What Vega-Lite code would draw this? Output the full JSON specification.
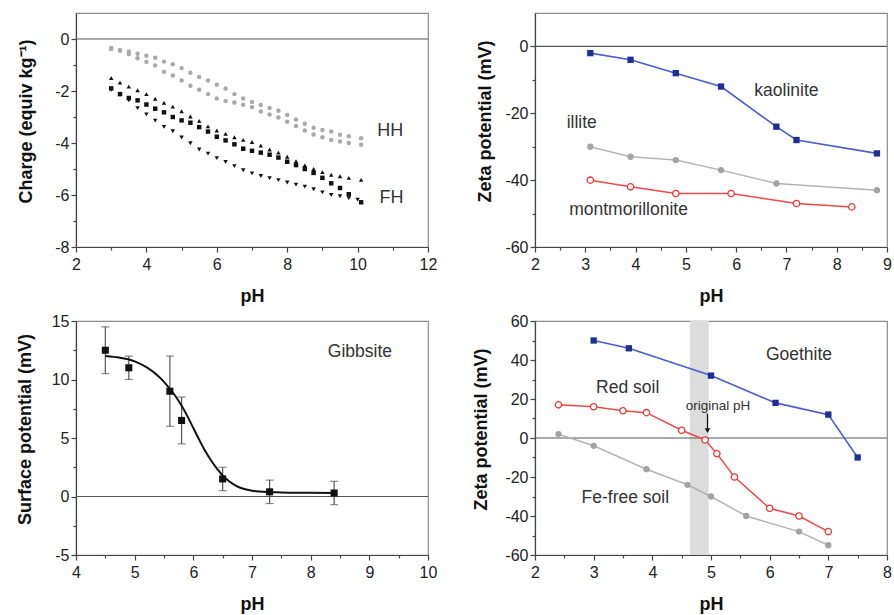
{
  "$schema": "https://vega.github.io/schema/vega-lite/v6.json",
  "padding": {"left": 15, "top": 12, "right": 2, "bottom": 2},
  "columns": 2,
  "spacing": {"row": 74, "column": 107},
  "bounds": "flush",
  "resolve": {"scale": {"color": "independent", "shape": "independent", "size": "independent"}},
  "datasets": {
    "charge": [
      {"s":"HH1","pH":3.0,"q":-0.35},{"s":"HH1","pH":3.25,"q":-0.42},{"s":"HH1","pH":3.5,"q":-0.49},{"s":"HH1","pH":3.75,"q":-0.57},{"s":"HH1","pH":4.0,"q":-0.64},{"s":"HH1","pH":4.25,"q":-0.72},{"s":"HH1","pH":4.5,"q":-0.87},{"s":"HH1","pH":4.75,"q":-0.97},{"s":"HH1","pH":5.0,"q":-1.12},{"s":"HH1","pH":5.25,"q":-1.3},{"s":"HH1","pH":5.5,"q":-1.46},{"s":"HH1","pH":5.75,"q":-1.6},{"s":"HH1","pH":6.0,"q":-1.76},{"s":"HH1","pH":6.25,"q":-1.9},{"s":"HH1","pH":6.5,"q":-2.12},{"s":"HH1","pH":6.75,"q":-2.29},{"s":"HH1","pH":7.0,"q":-2.42},{"s":"HH1","pH":7.25,"q":-2.54},{"s":"HH1","pH":7.5,"q":-2.65},{"s":"HH1","pH":7.75,"q":-2.76},{"s":"HH1","pH":8.0,"q":-2.92},{"s":"HH1","pH":8.25,"q":-3.1},{"s":"HH1","pH":8.5,"q":-3.26},{"s":"HH1","pH":8.75,"q":-3.41},{"s":"HH1","pH":9.0,"q":-3.5},{"s":"HH1","pH":9.25,"q":-3.56},{"s":"HH1","pH":9.5,"q":-3.68},{"s":"HH1","pH":9.75,"q":-3.74},{"s":"HH1","pH":10.1,"q":-3.82},
      {"s":"HH2","pH":3.0,"q":-0.38},{"s":"HH2","pH":3.25,"q":-0.45},{"s":"HH2","pH":3.5,"q":-0.58},{"s":"HH2","pH":3.75,"q":-0.74},{"s":"HH2","pH":4.0,"q":-0.88},{"s":"HH2","pH":4.25,"q":-1.02},{"s":"HH2","pH":4.5,"q":-1.26},{"s":"HH2","pH":4.75,"q":-1.4},{"s":"HH2","pH":5.0,"q":-1.6},{"s":"HH2","pH":5.25,"q":-1.8},{"s":"HH2","pH":5.5,"q":-1.95},{"s":"HH2","pH":5.75,"q":-2.12},{"s":"HH2","pH":6.0,"q":-2.29},{"s":"HH2","pH":6.25,"q":-2.38},{"s":"HH2","pH":6.5,"q":-2.44},{"s":"HH2","pH":6.75,"q":-2.53},{"s":"HH2","pH":7.0,"q":-2.62},{"s":"HH2","pH":7.25,"q":-2.79},{"s":"HH2","pH":7.5,"q":-2.9},{"s":"HH2","pH":7.75,"q":-3.02},{"s":"HH2","pH":8.0,"q":-3.18},{"s":"HH2","pH":8.25,"q":-3.35},{"s":"HH2","pH":8.5,"q":-3.52},{"s":"HH2","pH":8.75,"q":-3.67},{"s":"HH2","pH":9.0,"q":-3.78},{"s":"HH2","pH":9.25,"q":-3.88},{"s":"HH2","pH":9.5,"q":-3.94},{"s":"HH2","pH":9.75,"q":-4.0},{"s":"HH2","pH":10.1,"q":-4.07},
      {"s":"FHu","pH":3.0,"q":-1.5},{"s":"FHu","pH":3.25,"q":-1.68},{"s":"FHu","pH":3.5,"q":-1.83},{"s":"FHu","pH":3.75,"q":-1.97},{"s":"FHu","pH":4.0,"q":-2.12},{"s":"FHu","pH":4.25,"q":-2.3},{"s":"FHu","pH":4.5,"q":-2.45},{"s":"FHu","pH":4.75,"q":-2.6},{"s":"FHu","pH":5.0,"q":-2.78},{"s":"FHu","pH":5.25,"q":-2.98},{"s":"FHu","pH":5.5,"q":-3.15},{"s":"FHu","pH":5.75,"q":-3.36},{"s":"FHu","pH":6.0,"q":-3.52},{"s":"FHu","pH":6.25,"q":-3.65},{"s":"FHu","pH":6.5,"q":-3.78},{"s":"FHu","pH":6.75,"q":-3.88},{"s":"FHu","pH":7.0,"q":-3.96},{"s":"FHu","pH":7.25,"q":-4.1},{"s":"FHu","pH":7.5,"q":-4.25},{"s":"FHu","pH":7.75,"q":-4.37},{"s":"FHu","pH":8.0,"q":-4.53},{"s":"FHu","pH":8.25,"q":-4.7},{"s":"FHu","pH":8.5,"q":-4.86},{"s":"FHu","pH":8.75,"q":-5.0},{"s":"FHu","pH":9.0,"q":-5.12},{"s":"FHu","pH":9.25,"q":-5.22},{"s":"FHu","pH":9.5,"q":-5.28},{"s":"FHu","pH":9.75,"q":-5.34},{"s":"FHu","pH":10.1,"q":-5.42},
      {"s":"FHs","pH":3.0,"q":-1.9},{"s":"FHs","pH":3.25,"q":-2.12},{"s":"FHs","pH":3.5,"q":-2.27},{"s":"FHs","pH":3.75,"q":-2.36},{"s":"FHs","pH":4.0,"q":-2.52},{"s":"FHs","pH":4.25,"q":-2.68},{"s":"FHs","pH":4.5,"q":-2.82},{"s":"FHs","pH":4.75,"q":-3.0},{"s":"FHs","pH":5.0,"q":-3.13},{"s":"FHs","pH":5.25,"q":-3.22},{"s":"FHs","pH":5.5,"q":-3.39},{"s":"FHs","pH":5.75,"q":-3.56},{"s":"FHs","pH":6.0,"q":-3.76},{"s":"FHs","pH":6.25,"q":-3.9},{"s":"FHs","pH":6.5,"q":-4.05},{"s":"FHs","pH":6.75,"q":-4.22},{"s":"FHs","pH":7.0,"q":-4.3},{"s":"FHs","pH":7.25,"q":-4.37},{"s":"FHs","pH":7.5,"q":-4.45},{"s":"FHs","pH":7.75,"q":-4.56},{"s":"FHs","pH":8.0,"q":-4.72},{"s":"FHs","pH":8.25,"q":-4.85},{"s":"FHs","pH":8.5,"q":-5.0},{"s":"FHs","pH":8.75,"q":-5.15},{"s":"FHs","pH":9.0,"q":-5.34},{"s":"FHs","pH":9.25,"q":-5.55},{"s":"FHs","pH":9.5,"q":-5.73},{"s":"FHs","pH":9.75,"q":-5.97},{"s":"FHs","pH":10.1,"q":-6.28},
      {"s":"FHd","pH":3.0,"q":-1.95},{"s":"FHd","pH":3.25,"q":-2.12},{"s":"FHd","pH":3.5,"q":-2.36},{"s":"FHd","pH":3.75,"q":-2.66},{"s":"FHd","pH":4.0,"q":-2.9},{"s":"FHd","pH":4.25,"q":-3.14},{"s":"FHd","pH":4.5,"q":-3.38},{"s":"FHd","pH":4.75,"q":-3.55},{"s":"FHd","pH":5.0,"q":-3.79},{"s":"FHd","pH":5.25,"q":-4.01},{"s":"FHd","pH":5.5,"q":-4.25},{"s":"FHd","pH":5.75,"q":-4.41},{"s":"FHd","pH":6.0,"q":-4.58},{"s":"FHd","pH":6.25,"q":-4.73},{"s":"FHd","pH":6.5,"q":-4.89},{"s":"FHd","pH":6.75,"q":-5.05},{"s":"FHd","pH":7.0,"q":-5.17},{"s":"FHd","pH":7.25,"q":-5.27},{"s":"FHd","pH":7.5,"q":-5.35},{"s":"FHd","pH":7.75,"q":-5.43},{"s":"FHd","pH":8.0,"q":-5.52},{"s":"FHd","pH":8.25,"q":-5.6},{"s":"FHd","pH":8.5,"q":-5.68},{"s":"FHd","pH":8.75,"q":-5.78},{"s":"FHd","pH":9.0,"q":-5.9},{"s":"FHd","pH":9.25,"q":-6.0},{"s":"FHd","pH":9.5,"q":-6.05},{"s":"FHd","pH":9.75,"q":-6.12},{"s":"FHd","pH":10.0,"q":-6.18}
    ],
    "chargeLabels": [{"t":"HH","pH":10.93,"q":-3.55},{"t":"FH","pH":10.96,"q":-6.12}],
    "clay": [
      {"s":"kaolinite","pH":3.1,"z":-2},{"s":"kaolinite","pH":3.9,"z":-4},{"s":"kaolinite","pH":4.8,"z":-8},{"s":"kaolinite","pH":5.7,"z":-12},{"s":"kaolinite","pH":6.8,"z":-24},{"s":"kaolinite","pH":7.2,"z":-28},{"s":"kaolinite","pH":8.8,"z":-32},
      {"s":"illite","pH":3.1,"z":-30},{"s":"illite","pH":3.9,"z":-33},{"s":"illite","pH":4.8,"z":-34},{"s":"illite","pH":5.7,"z":-37},{"s":"illite","pH":6.8,"z":-41},{"s":"illite","pH":8.8,"z":-43},
      {"s":"montmorillonite","pH":3.1,"z":-40},{"s":"montmorillonite","pH":3.9,"z":-42},{"s":"montmorillonite","pH":4.8,"z":-44},{"s":"montmorillonite","pH":5.9,"z":-44},{"s":"montmorillonite","pH":7.2,"z":-47},{"s":"montmorillonite","pH":8.3,"z":-48}
    ],
    "clayLabels": [{"t":"kaolinite","pH":7.0,"z":-13.3},{"t":"illite","pH":2.93,"z":-22.9},{"t":"montmorillonite","pH":3.86,"z":-48.9}],
    "gibb": [
      {"pH":4.5,"sp":12.5,"lo":10.5,"hi":14.5},{"pH":4.9,"sp":11.0,"lo":10.0,"hi":12.0},{"pH":5.6,"sp":9.0,"lo":6.0,"hi":12.0},{"pH":5.8,"sp":6.5,"lo":4.5,"hi":8.5},{"pH":6.5,"sp":1.5,"lo":0.5,"hi":2.5},{"pH":7.3,"sp":0.4,"lo":-0.6,"hi":1.4},{"pH":8.4,"sp":0.3,"lo":-0.7,"hi":1.3}
    ],
    "gibbFit": [
      {"pH":4.5,"sp":12.0},{"pH":4.75,"sp":11.85},{"pH":5.0,"sp":11.55},{"pH":5.2,"sp":11.05},{"pH":5.4,"sp":10.3},{"pH":5.5,"sp":9.8},{"pH":5.6,"sp":9.2},{"pH":5.7,"sp":8.55},{"pH":5.8,"sp":7.75},{"pH":5.9,"sp":6.85},{"pH":6.0,"sp":5.85},{"pH":6.1,"sp":4.85},{"pH":6.2,"sp":3.9},{"pH":6.3,"sp":3.1},{"pH":6.4,"sp":2.4},{"pH":6.5,"sp":1.8},{"pH":6.6,"sp":1.35},{"pH":6.7,"sp":1.0},{"pH":6.8,"sp":0.75},{"pH":6.9,"sp":0.6},{"pH":7.0,"sp":0.5},{"pH":7.2,"sp":0.4},{"pH":7.5,"sp":0.35},{"pH":8.0,"sp":0.32},{"pH":8.4,"sp":0.3}
    ],
    "gibbLabels": [{"t":"Gibbsite","pH":8.84,"sp":12.35}],
    "soil": [
      {"s":"Goethite","pH":3.0,"z":50},{"s":"Goethite","pH":3.6,"z":46},{"s":"Goethite","pH":5.0,"z":32},{"s":"Goethite","pH":6.1,"z":18},{"s":"Goethite","pH":7.0,"z":12},{"s":"Goethite","pH":7.5,"z":-10},
      {"s":"Red soil","pH":2.4,"z":17},{"s":"Red soil","pH":3.0,"z":16},{"s":"Red soil","pH":3.5,"z":14},{"s":"Red soil","pH":3.9,"z":13},{"s":"Red soil","pH":4.5,"z":4},{"s":"Red soil","pH":4.9,"z":-1},{"s":"Red soil","pH":5.1,"z":-8},{"s":"Red soil","pH":5.4,"z":-20},{"s":"Red soil","pH":6.0,"z":-36},{"s":"Red soil","pH":6.5,"z":-40},{"s":"Red soil","pH":7.0,"z":-48},
      {"s":"Fe-free soil","pH":2.4,"z":2},{"s":"Fe-free soil","pH":3.0,"z":-4},{"s":"Fe-free soil","pH":3.9,"z":-16},{"s":"Fe-free soil","pH":4.6,"z":-24},{"s":"Fe-free soil","pH":5.0,"z":-30},{"s":"Fe-free soil","pH":5.6,"z":-40},{"s":"Fe-free soil","pH":6.5,"z":-48},{"s":"Fe-free soil","pH":7.0,"z":-55}
    ],
    "soilLabels": [{"t":"Goethite","pH":6.5,"z":42.6},{"t":"Red soil","pH":3.58,"z":25.8},{"t":"Fe-free soil","pH":3.54,"z":-30.9}],
    "origLabel": [{"t":"original pH","pH":5.12,"z":16.2}],
    "band": [{"a":4.64,"b":4.96}],
    "arrow": [{"pH":4.94,"top":12.5,"bot":5.0,"head":3.8}],
    "zero": [{"ref":0}]
  },
  "concat": [
    {
      "width": 352, "height": 234,
      "resolve": {"axis": {"x": "independent", "y": "independent"}},
      "layer": [
        {"data":{"name":"zero"},"mark":{"type":"rule","color":"#555","strokeWidth":1.2},
         "encoding":{"y":{"field":"ref","type":"quantitative","scale":{"domain":[-8,1],"nice":false,"zero":false},"axis":null}}},
        {"data":{"name":"charge"},"mark":{"type":"point","filled":true,"opacity":1},
         "encoding":{
           "x":{"field":"pH","type":"quantitative","scale":{"domain":[2,12],"nice":false,"zero":false},
                "axis":{"orient":"bottom","values":[2,4,6,8,10,12],"title":"pH","labelFlush":false,"labelPadding":4,"labelExpr":"'' + datum.value","titleY":49,"titleBaseline":"middle"}},
           "y":{"field":"q","type":"quantitative","scale":{"domain":[-8,1],"nice":false,"zero":false},
                "axis":{"orient":"left","values":[-8,-6,-4,-2,0],"title":"Charge (equiv kg⁻¹)","labelPadding":2,"labelExpr":"'' + datum.value","titleX":-50,"titleY":108,"titleBaseline":"middle","titleAlign":"center"}},
           "shape":{"field":"s","type":"nominal","scale":{"domain":["HH1","HH2","FHu","FHs","FHd"],"range":["circle","circle","triangle-up","square","triangle-down"]},"legend":null},
           "color":{"field":"s","type":"nominal","scale":{"domain":["HH1","HH2","FHu","FHs","FHd"],"range":["#a9a9a9","#a9a9a9","#111111","#111111","#111111"]},"legend":null},
           "size":{"field":"s","type":"nominal","scale":{"domain":["HH1","HH2","FHu","FHs","FHd"],"range":[20,20,26,20,26]},"legend":null}
         }},
        {"data":{"name":"chargeLabels"},"mark":{"type":"text","fontSize":18,"color":"#333"},
         "encoding":{
           "x":{"field":"pH","type":"quantitative","scale":{"domain":[2,12],"nice":false,"zero":false},
                "axis":{"orient":"bottom","values":[3,5,7,9,11],"labels":false,"domain":false,"title":null,"tickSize":3}},
           "y":{"field":"q","type":"quantitative","scale":{"domain":[-8,1],"nice":false,"zero":false},
                "axis":{"orient":"left","values":[-7,-5,-3,-1],"labels":false,"domain":false,"title":null,"tickSize":3}},
           "text":{"field":"t"}
         }}
      ]
    },
    {
      "width": 352, "height": 234,
      "resolve": {"axis": {"x": "independent", "y": "independent"}},
      "layer": [
        {"data":{"name":"zero"},"mark":{"type":"rule","color":"#555","strokeWidth":1.2},
         "encoding":{"y":{"field":"ref","type":"quantitative","scale":{"domain":[-60,10],"nice":false,"zero":false},"axis":null}}},
        {"data":{"name":"clay"},"transform":[{"filter":"datum.s === 'kaolinite'"}],
         "mark":{"type":"line","color":"#4b5bd1","strokeWidth":1.6,"point":{"shape":"square","filled":true,"color":"#1f2e96","size":40,"opacity":1}},
         "encoding":{
           "x":{"field":"pH","type":"quantitative","scale":{"domain":[2,9],"nice":false,"zero":false},
                "axis":{"orient":"bottom","values":[2,3,4,5,6,7,8,9],"title":"pH","labelFlush":false,"labelPadding":4,"labelExpr":"'' + datum.value","titleY":49,"titleBaseline":"middle"}},
           "y":{"field":"z","type":"quantitative","scale":{"domain":[-60,10],"nice":false,"zero":false},
                "axis":{"orient":"left","values":[-60,-40,-20,0],"title":"Zeta potential (mV)","labelPadding":2,"labelExpr":"'' + datum.value","titleX":-50,"titleY":108,"titleBaseline":"middle","titleAlign":"center"}}
         }},
        {"data":{"name":"clay"},"transform":[{"filter":"datum.s === 'illite'"}],
         "mark":{"type":"line","color":"#b3b3b3","strokeWidth":1.5,"point":{"shape":"circle","filled":true,"color":"#a3a3a3","size":40,"opacity":1}},
         "encoding":{
           "x":{"field":"pH","type":"quantitative","scale":{"domain":[2,9],"nice":false,"zero":false},"axis":null},
           "y":{"field":"z","type":"quantitative","scale":{"domain":[-60,10],"nice":false,"zero":false},"axis":null}
         }},
        {"data":{"name":"clay"},"transform":[{"filter":"datum.s === 'montmorillonite'"}],
         "mark":{"type":"line","color":"#f04848","strokeWidth":1.5,"point":{"shape":"circle","filled":false,"fill":"#ffffff","stroke":"#ec3535","strokeWidth":1.3,"size":40,"opacity":1}},
         "encoding":{
           "x":{"field":"pH","type":"quantitative","scale":{"domain":[2,9],"nice":false,"zero":false},"axis":null},
           "y":{"field":"z","type":"quantitative","scale":{"domain":[-60,10],"nice":false,"zero":false},"axis":null}
         }},
        {"data":{"name":"clayLabels"},"mark":{"type":"text","fontSize":17.5,"color":"#333"},
         "encoding":{
           "x":{"field":"pH","type":"quantitative","scale":{"domain":[2,9],"nice":false,"zero":false},
                "axis":{"orient":"bottom","values":[2.5,3.5,4.5,5.5,6.5,7.5,8.5],"labels":false,"domain":false,"title":null,"tickSize":3}},
           "y":{"field":"z","type":"quantitative","scale":{"domain":[-60,10],"nice":false,"zero":false},
                "axis":{"orient":"left","values":[-50,-30,-10],"labels":false,"domain":false,"title":null,"tickSize":3}},
           "text":{"field":"t"}
         }}
      ]
    },
    {
      "width": 352, "height": 234,
      "resolve": {"axis": {"x": "independent", "y": "independent"}},
      "layer": [
        {"data":{"name":"zero"},"mark":{"type":"rule","color":"#555","strokeWidth":1.2},
         "encoding":{"y":{"field":"ref","type":"quantitative","scale":{"domain":[-5,15],"nice":false,"zero":false},"axis":null}}},
        {"data":{"name":"gibb"},"mark":{"type":"rule","color":"#555","strokeWidth":1.2},
         "encoding":{
           "x":{"field":"pH","type":"quantitative","scale":{"domain":[4,10],"nice":false,"zero":false},"axis":null},
           "y":{"field":"lo","type":"quantitative","scale":{"domain":[-5,15],"nice":false,"zero":false},"axis":null},
           "y2":{"field":"hi"}
         }},
        {"data":{"name":"gibb"},"mark":{"type":"tick","orient":"horizontal","color":"#555","size":8,"thickness":1.2},
         "encoding":{
           "x":{"field":"pH","type":"quantitative","scale":{"domain":[4,10],"nice":false,"zero":false},"axis":null},
           "y":{"field":"lo","type":"quantitative","scale":{"domain":[-5,15],"nice":false,"zero":false},"axis":null}
         }},
        {"data":{"name":"gibb"},"mark":{"type":"tick","orient":"horizontal","color":"#555","size":8,"thickness":1.2},
         "encoding":{
           "x":{"field":"pH","type":"quantitative","scale":{"domain":[4,10],"nice":false,"zero":false},"axis":null},
           "y":{"field":"hi","type":"quantitative","scale":{"domain":[-5,15],"nice":false,"zero":false},"axis":null}
         }},
        {"data":{"name":"gibbFit"},"mark":{"type":"line","color":"#111","strokeWidth":2,"interpolate":"monotone"},
         "encoding":{
           "x":{"field":"pH","type":"quantitative","scale":{"domain":[4,10],"nice":false,"zero":false},"axis":null},
           "y":{"field":"sp","type":"quantitative","scale":{"domain":[-5,15],"nice":false,"zero":false},"axis":null}
         }},
        {"data":{"name":"gibb"},"mark":{"type":"point","shape":"square","filled":true,"color":"#111","size":50,"opacity":1},
         "encoding":{
           "x":{"field":"pH","type":"quantitative","scale":{"domain":[4,10],"nice":false,"zero":false},
                "axis":{"orient":"bottom","values":[4,5,6,7,8,9,10],"title":"pH","labelFlush":false,"labelPadding":4,"labelExpr":"'' + datum.value","titleY":49,"titleBaseline":"middle"}},
           "y":{"field":"sp","type":"quantitative","scale":{"domain":[-5,15],"nice":false,"zero":false},
                "axis":{"orient":"left","values":[-5,0,5,10,15],"title":"Surface potential (mV)","labelPadding":2,"labelExpr":"'' + datum.value","titleX":-51,"titleY":108,"titleBaseline":"middle","titleAlign":"center"}}
         }},
        {"data":{"name":"gibbLabels"},"mark":{"type":"text","fontSize":17.5,"color":"#333"},
         "encoding":{
           "x":{"field":"pH","type":"quantitative","scale":{"domain":[4,10],"nice":false,"zero":false},
                "axis":{"orient":"bottom","values":[4.5,5.5,6.5,7.5,8.5,9.5],"labels":false,"domain":false,"title":null,"tickSize":3}},
           "y":{"field":"sp","type":"quantitative","scale":{"domain":[-5,15],"nice":false,"zero":false},
                "axis":{"orient":"left","values":[-2.5,2.5,7.5,12.5],"labels":false,"domain":false,"title":null,"tickSize":3}},
           "text":{"field":"t"}
         }}
      ]
    },
    {
      "width": 352, "height": 234,
      "resolve": {"axis": {"x": "independent", "y": "independent"}},
      "layer": [
        {"data":{"name":"band"},"mark":{"type":"rect","color":"#dcdcdc"},
         "encoding":{
           "x":{"field":"a","type":"quantitative","scale":{"domain":[2,8],"nice":false,"zero":false},"axis":null},
           "x2":{"field":"b"}
         }},
        {"data":{"name":"zero"},"mark":{"type":"rule","color":"#555","strokeWidth":1.2},
         "encoding":{"y":{"field":"ref","type":"quantitative","scale":{"domain":[-60,60],"nice":false,"zero":false},"axis":null}}},
        {"data":{"name":"arrow"},"mark":{"type":"rule","color":"#111","strokeWidth":1.2},
         "encoding":{
           "x":{"field":"pH","type":"quantitative","scale":{"domain":[2,8],"nice":false,"zero":false},"axis":null},
           "y":{"field":"top","type":"quantitative","scale":{"domain":[-60,60],"nice":false,"zero":false},"axis":null},
           "y2":{"field":"bot"}
         }},
        {"data":{"name":"arrow"},"mark":{"type":"point","shape":"triangle-down","filled":true,"color":"#111","size":30,"opacity":1},
         "encoding":{
           "x":{"field":"pH","type":"quantitative","scale":{"domain":[2,8],"nice":false,"zero":false},"axis":null},
           "y":{"field":"head","type":"quantitative","scale":{"domain":[-60,60],"nice":false,"zero":false},"axis":null}
         }},
        {"data":{"name":"soil"},"transform":[{"filter":"datum.s === 'Goethite'"}],
         "mark":{"type":"line","color":"#4b5bd1","strokeWidth":1.6,"point":{"shape":"square","filled":true,"color":"#1f2e96","size":40,"opacity":1}},
         "encoding":{
           "x":{"field":"pH","type":"quantitative","scale":{"domain":[2,8],"nice":false,"zero":false},
                "axis":{"orient":"bottom","values":[2,3,4,5,6,7,8],"title":"pH","labelFlush":false,"labelPadding":4,"labelExpr":"'' + datum.value","titleY":49,"titleBaseline":"middle"}},
           "y":{"field":"z","type":"quantitative","scale":{"domain":[-60,60],"nice":false,"zero":false},
                "axis":{"orient":"left","values":[-60,-40,-20,0,20,40,60],"title":"Zeta potential (mV)","labelPadding":2,"labelExpr":"'' + datum.value","titleX":-54,"titleY":108,"titleBaseline":"middle","titleAlign":"center"}}
         }},
        {"data":{"name":"soil"},"transform":[{"filter":"datum.s === 'Fe-free soil'"}],
         "mark":{"type":"line","color":"#b3b3b3","strokeWidth":1.5,"point":{"shape":"circle","filled":true,"color":"#a3a3a3","size":40,"opacity":1}},
         "encoding":{
           "x":{"field":"pH","type":"quantitative","scale":{"domain":[2,8],"nice":false,"zero":false},"axis":null},
           "y":{"field":"z","type":"quantitative","scale":{"domain":[-60,60],"nice":false,"zero":false},"axis":null}
         }},
        {"data":{"name":"soil"},"transform":[{"filter":"datum.s === 'Red soil'"}],
         "mark":{"type":"line","color":"#f04848","strokeWidth":1.5,"point":{"shape":"circle","filled":false,"fill":"#ffffff","stroke":"#ec3535","strokeWidth":1.3,"size":40,"opacity":1}},
         "encoding":{
           "x":{"field":"pH","type":"quantitative","scale":{"domain":[2,8],"nice":false,"zero":false},"axis":null},
           "y":{"field":"z","type":"quantitative","scale":{"domain":[-60,60],"nice":false,"zero":false},"axis":null}
         }},
        {"data":{"name":"origLabel"},"mark":{"type":"text","fontSize":13.5,"color":"#333"},
         "encoding":{
           "x":{"field":"pH","type":"quantitative","scale":{"domain":[2,8],"nice":false,"zero":false},"axis":null},
           "y":{"field":"z","type":"quantitative","scale":{"domain":[-60,60],"nice":false,"zero":false},"axis":null},
           "text":{"field":"t"}
         }},
        {"data":{"name":"soilLabels"},"mark":{"type":"text","fontSize":17.5,"color":"#333"},
         "encoding":{
           "x":{"field":"pH","type":"quantitative","scale":{"domain":[2,8],"nice":false,"zero":false},
                "axis":{"orient":"bottom","values":[2.5,3.5,4.5,5.5,6.5,7.5],"labels":false,"domain":false,"title":null,"tickSize":3}},
           "y":{"field":"z","type":"quantitative","scale":{"domain":[-60,60],"nice":false,"zero":false},
                "axis":{"orient":"left","values":[-50,-30,-10,10,30,50],"labels":false,"domain":false,"title":null,"tickSize":3}},
           "text":{"field":"t"}
         }}
      ]
    }
  ],
  "config": {
    "font": "Liberation Sans",
    "view": {"stroke": "#8c8c8c", "strokeWidth": 1.2},
    "axis": {
      "labelFont": "Liberation Sans", "labelFontSize": 16, "labelColor": "#222",
      "titleFont": "Liberation Sans", "titleFontSize": 18, "titleFontWeight": "bold", "titleColor": "#111",
      "domainColor": "#444", "tickColor": "#444", "domainWidth": 1.2, "tickWidth": 1.2, "tickSize": 5, "grid": false
    },
    "text": {"font": "Liberation Sans"}
  }
}
